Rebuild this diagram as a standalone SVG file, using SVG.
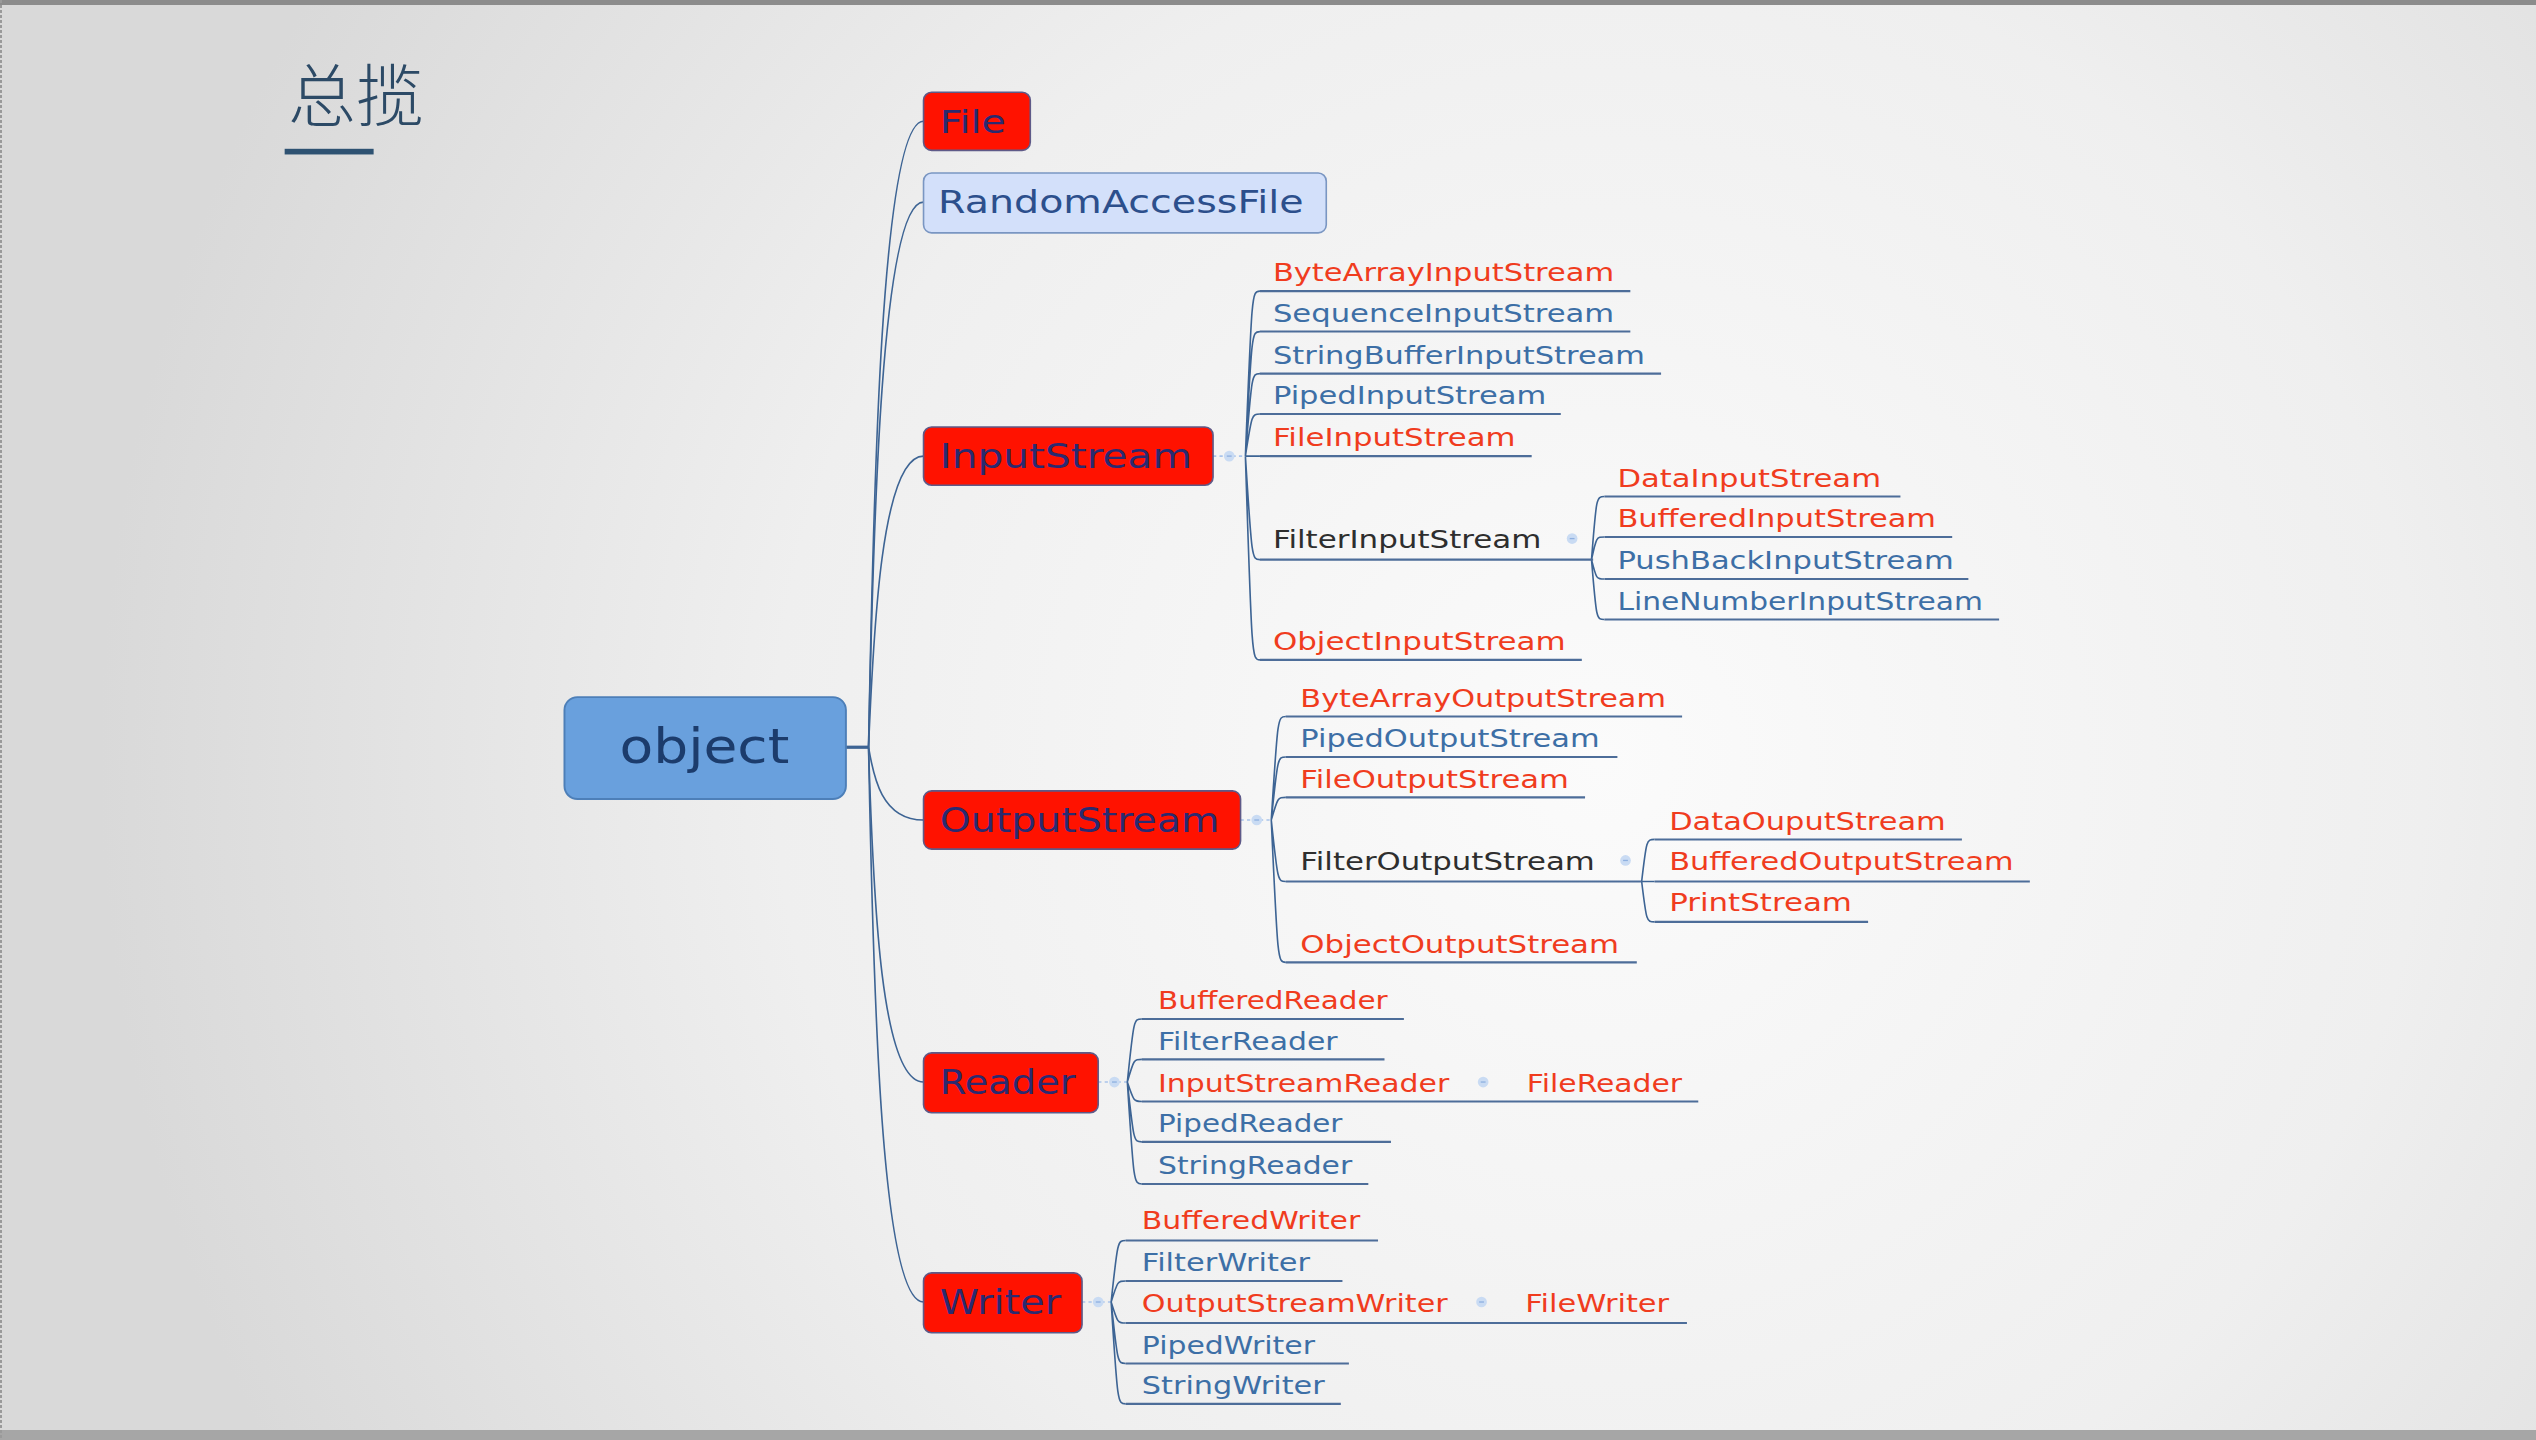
<svg xmlns="http://www.w3.org/2000/svg" width="2536" height="1440" viewBox="0 0 2536 1440">
<defs>
<radialGradient id="bg" gradientUnits="userSpaceOnUse" cx="1600" cy="760" r="1500">
<stop offset="0" stop-color="#fbfbfb"/>
<stop offset="0.55" stop-color="#efefef"/>
<stop offset="1" stop-color="#d9d9d9"/>
</radialGradient>
<style>
text{font-family:"DejaVu Sans","Liberation Sans",sans-serif}
.nt{font-size:20px;fill:#2a2a70}
.red{fill:#ff1200;stroke:#5e5a88;stroke-width:1}
.c{font-size:15px}
.r{fill:#f03c1e}
.b{fill:#3d6fa6}
.k{fill:#2e2e2e}
.u{stroke:#4d6d99;stroke-width:1.3;fill:none}
.e{stroke:#3d6494;stroke-width:1;fill:none}
.d{stroke:#a9c4ea;stroke-width:1;stroke-dasharray:2 2;fill:none}
.mk{fill:#c9dbf3}
.mm{stroke:#8eb0e0;stroke-width:0.8}
</style>
</defs>
<rect width="2536" height="1440" fill="url(#bg)"/>
<rect x="0" y="0" width="2536" height="5" fill="#8c8c8c"/>
<rect x="0" y="1430" width="2536" height="10" fill="#a6a6a6"/>
<line x1="1" y1="0" x2="1" y2="1440" stroke="#9a9a9a" stroke-width="2" stroke-dasharray="3 2"/>
<g transform="scale(1.6174)">
<g id="title">
<text x="178" y="75" style="font-family:'Noto Sans CJK SC','Noto Sans CJK JP',sans-serif;font-size:42px;fill:#2c4a66;font-weight:300">总揽</text>
<rect x="176" y="92" width="55" height="3.5" fill="#2e5272"/>
</g>
<g id="connectors">
<path class="e" style="stroke-width:2" d="M523,462 H537"/>
<path class="e" d="M537,462 C540,300 545,75 571,75"/>
<path class="e" d="M537,462 C540,320 545,125 571,125"/>
<path class="e" d="M537,462 C540,390 545,282 571,282"/>
<path class="e" d="M537,462 C540,480 545,507 571,507"/>
<path class="e" d="M537,462 C540,560 545,669 571,669"/>
<path class="e" d="M537,462 C540,620 545,805 571,805"/>
<path class="d" d="M750,282 H770 M767,507 H786 M679,669 H697 M669,805 H687"/>
<path class="e" d="M770,282 C774,180 774,180 779,180 M770,282 C774,205 774,205 779,205 M770,282 C774,231 774,231 779,231 M770,282 C774,256 774,256 779,256 M770,282 H779 M770,282 C774,346 774,346 779,346 M770,282 C774,408 774,408 779,408"/>
<path class="e" d="M786,507 C790,443 790,443 795,443 M786,507 C790,468 790,468 795,468 M786,507 C790,493 790,493 795,493 M786,507 C790,545 790,545 795,545 M786,507 C790,595 790,595 795,595"/>
<path class="e" d="M697,669 C701,630 701,630 706,630 M697,669 C701,655 701,655 706,655 M697,669 C701,681 701,681 706,681 M697,669 C701,706 701,706 706,706 M697,669 C701,732 701,732 706,732"/>
<path class="e" d="M687,805 C691,767 691,767 696,767 M687,805 C691,792 691,792 696,792 M687,805 C691,818 691,818 696,818 M687,805 C691,843 691,843 696,843 M687,805 C691,868 691,868 696,868"/>
<path class="e" d="M984,346 C987,307 987,307 992,307 M984,346 C987,332 987,332 992,332 M984,346 C987,358 987,358 992,358 M984,346 C987,383 987,383 992,383"/>
<path class="e" d="M1015,545 C1018,519 1018,519 1023,519 M1015,545 H1023 M1015,545 C1018,570 1018,570 1023,570"/>
<g>
<circle class="mk" cx="760" cy="282" r="3.3"/><line class="mm" x1="758.5" y1="282" x2="761.5" y2="282"/>
<circle class="mk" cx="777" cy="507" r="3.3"/><line class="mm" x1="775.5" y1="507" x2="778.5" y2="507"/>
<circle class="mk" cx="689" cy="669" r="3.3"/><line class="mm" x1="687.5" y1="669" x2="690.5" y2="669"/>
<circle class="mk" cx="679" cy="805" r="3.3"/><line class="mm" x1="677.5" y1="805" x2="680.5" y2="805"/>
<circle class="mk" cx="972" cy="333" r="3.3"/><line class="mm" x1="970.5" y1="333" x2="973.5" y2="333"/>
<circle class="mk" cx="1005" cy="532" r="3.3"/><line class="mm" x1="1003.5" y1="532" x2="1006.5" y2="532"/>
<circle class="mk" cx="917" cy="669" r="3.3"/><line class="mm" x1="915.5" y1="669" x2="918.5" y2="669"/>
<circle class="mk" cx="916" cy="805" r="3.3"/><line class="mm" x1="914.5" y1="805" x2="917.5" y2="805"/>
</g>
</g>
<g id="object">
<rect x="349" y="431" width="174" height="63" rx="8" fill="#69a0dd" stroke="#4d7fb8" stroke-width="1.2"/>
<text x="383" y="472" style="font-size:30px;fill:#1c3c6c" textLength="105" lengthAdjust="spacingAndGlyphs">object</text>
</g>
<g id="File">
<rect class="red" x="571" y="57" width="66" height="36" rx="5"/>
<text class="nt" x="581" y="82" textLength="41" lengthAdjust="spacingAndGlyphs">File</text>
</g>
<g id="RandomAccessFile">
<rect x="571" y="107" width="249" height="37" rx="5" fill="#d3e0fa" stroke="#7a96c2" stroke-width="1"/>
<text class="nt" x="580" y="132" style="fill:#2c4f8c" textLength="226" lengthAdjust="spacingAndGlyphs">RandomAccessFile</text>
</g>
<g id="InputStream">
<rect class="red" x="571" y="264" width="179" height="36" rx="5"/>
<text class="nt" x="581" y="289.5" style="font-size:21px" textLength="156" lengthAdjust="spacingAndGlyphs">InputStream</text>
</g>
<g id="OutputStream">
<rect class="red" x="571" y="489" width="196" height="36" rx="5"/>
<text class="nt" x="581" y="514.5" style="font-size:21px" textLength="173" lengthAdjust="spacingAndGlyphs">OutputStream</text>
</g>
<g id="Reader">
<rect class="red" x="571" y="651" width="108" height="37" rx="5"/>
<text class="nt" x="581" y="676.5" style="font-size:21px" textLength="84" lengthAdjust="spacingAndGlyphs">Reader</text>
</g>
<g id="Writer">
<rect class="red" x="571" y="787" width="98" height="37" rx="5"/>
<text class="nt" x="581" y="812.5" style="font-size:21px" textLength="75" lengthAdjust="spacingAndGlyphs">Writer</text>
</g>
<g id="ByteArrayInputStream"><line class="u" x1="779" y1="180" x2="1008" y2="180"/><text class="c r" x="787" y="174" textLength="211" lengthAdjust="spacingAndGlyphs">ByteArrayInputStream</text></g>
<g id="SequenceInputStream"><line class="u" x1="779" y1="205" x2="1008" y2="205"/><text class="c b" x="787" y="199" textLength="211" lengthAdjust="spacingAndGlyphs">SequenceInputStream</text></g>
<g id="StringBufferInputStream"><line class="u" x1="779" y1="231" x2="1027" y2="231"/><text class="c b" x="787" y="225" textLength="230" lengthAdjust="spacingAndGlyphs">StringBufferInputStream</text></g>
<g id="PipedInputStream"><line class="u" x1="779" y1="256" x2="965" y2="256"/><text class="c b" x="787" y="250" textLength="169" lengthAdjust="spacingAndGlyphs">PipedInputStream</text></g>
<g id="FileInputStream"><line class="u" x1="779" y1="282" x2="947" y2="282"/><text class="c r" x="787" y="276" textLength="150" lengthAdjust="spacingAndGlyphs">FileInputStream</text></g>
<g id="FilterInputStream"><line class="u" x1="779" y1="346" x2="985" y2="346"/><text class="c k" x="787" y="339" textLength="166" lengthAdjust="spacingAndGlyphs">FilterInputStream</text></g>
<g id="ObjectInputStream"><line class="u" x1="779" y1="408" x2="978" y2="408"/><text class="c r" x="787" y="402" textLength="181" lengthAdjust="spacingAndGlyphs">ObjectInputStream</text></g>
<g id="DataInputStream"><line class="u" x1="992" y1="307" x2="1175" y2="307"/><text class="c r" x="1000" y="301" textLength="163" lengthAdjust="spacingAndGlyphs">DataInputStream</text></g>
<g id="BufferedInputStream"><line class="u" x1="992" y1="332" x2="1207" y2="332"/><text class="c r" x="1000" y="326" textLength="197" lengthAdjust="spacingAndGlyphs">BufferedInputStream</text></g>
<g id="PushBackInputStream"><line class="u" x1="992" y1="358" x2="1217" y2="358"/><text class="c b" x="1000" y="352" textLength="208" lengthAdjust="spacingAndGlyphs">PushBackInputStream</text></g>
<g id="LineNumberInputStream"><line class="u" x1="992" y1="383" x2="1236" y2="383"/><text class="c b" x="1000" y="377" textLength="226" lengthAdjust="spacingAndGlyphs">LineNumberInputStream</text></g>
<g id="ByteArrayOutputStream"><line class="u" x1="795" y1="443" x2="1040" y2="443"/><text class="c r" x="804" y="437" textLength="226" lengthAdjust="spacingAndGlyphs">ByteArrayOutputStream</text></g>
<g id="PipedOutputStream"><line class="u" x1="795" y1="468" x2="1000" y2="468"/><text class="c b" x="804" y="462" textLength="185" lengthAdjust="spacingAndGlyphs">PipedOutputStream</text></g>
<g id="FileOutputStream"><line class="u" x1="795" y1="493" x2="980" y2="493"/><text class="c r" x="804" y="487" textLength="166" lengthAdjust="spacingAndGlyphs">FileOutputStream</text></g>
<g id="FilterOutputStream"><line class="u" x1="795" y1="545" x2="1015" y2="545"/><text class="c k" x="804" y="538" textLength="182" lengthAdjust="spacingAndGlyphs">FilterOutputStream</text></g>
<g id="ObjectOutputStream"><line class="u" x1="795" y1="595" x2="1012" y2="595"/><text class="c r" x="804" y="589" textLength="197" lengthAdjust="spacingAndGlyphs">ObjectOutputStream</text></g>
<g id="DataOuputStream"><line class="u" x1="1023" y1="519" x2="1213" y2="519"/><text class="c r" x="1032" y="513" textLength="171" lengthAdjust="spacingAndGlyphs">DataOuputStream</text></g>
<g id="BufferedOutputStream"><line class="u" x1="1023" y1="545" x2="1255" y2="545"/><text class="c r" x="1032" y="538" textLength="213" lengthAdjust="spacingAndGlyphs">BufferedOutputStream</text></g>
<g id="PrintStream"><line class="u" x1="1023" y1="570" x2="1155" y2="570"/><text class="c r" x="1032" y="563" textLength="113" lengthAdjust="spacingAndGlyphs">PrintStream</text></g>
<g id="BufferedReader"><line class="u" x1="706" y1="630" x2="868" y2="630"/><text class="c r" x="716" y="624" textLength="142" lengthAdjust="spacingAndGlyphs">BufferedReader</text></g>
<g id="FilterReader"><line class="u" x1="706" y1="655" x2="856" y2="655"/><text class="c b" x="716" y="649" textLength="111" lengthAdjust="spacingAndGlyphs">FilterReader</text></g>
<g id="InputStreamReader"><line class="u" x1="706" y1="681" x2="1050" y2="681"/><text class="c r" x="716" y="675" textLength="180" lengthAdjust="spacingAndGlyphs">InputStreamReader</text></g>
<g id="FileReader"><text class="c r" x="944" y="675" textLength="96" lengthAdjust="spacingAndGlyphs">FileReader</text></g>
<g id="PipedReader"><line class="u" x1="706" y1="706" x2="860" y2="706"/><text class="c b" x="716" y="700" textLength="114" lengthAdjust="spacingAndGlyphs">PipedReader</text></g>
<g id="StringReader"><line class="u" x1="706" y1="732" x2="846" y2="732"/><text class="c b" x="716" y="726" textLength="120" lengthAdjust="spacingAndGlyphs">StringReader</text></g>
<g id="BufferedWriter"><line class="u" x1="696" y1="767" x2="852" y2="767"/><text class="c r" x="706" y="760" textLength="135" lengthAdjust="spacingAndGlyphs">BufferedWriter</text></g>
<g id="FilterWriter"><line class="u" x1="696" y1="792" x2="830" y2="792"/><text class="c b" x="706" y="786" textLength="104" lengthAdjust="spacingAndGlyphs">FilterWriter</text></g>
<g id="OutputStreamWriter"><line class="u" x1="696" y1="818" x2="1043" y2="818"/><text class="c r" x="706" y="811" textLength="189" lengthAdjust="spacingAndGlyphs">OutputStreamWriter</text></g>
<g id="FileWriter"><text class="c r" x="943" y="811" textLength="89" lengthAdjust="spacingAndGlyphs">FileWriter</text></g>
<g id="PipedWriter"><line class="u" x1="696" y1="843" x2="834" y2="843"/><text class="c b" x="706" y="837" textLength="107" lengthAdjust="spacingAndGlyphs">PipedWriter</text></g>
<g id="StringWriter"><line class="u" x1="696" y1="868" x2="829" y2="868"/><text class="c b" x="706" y="862" textLength="113" lengthAdjust="spacingAndGlyphs">StringWriter</text></g>
</g>
</svg>
